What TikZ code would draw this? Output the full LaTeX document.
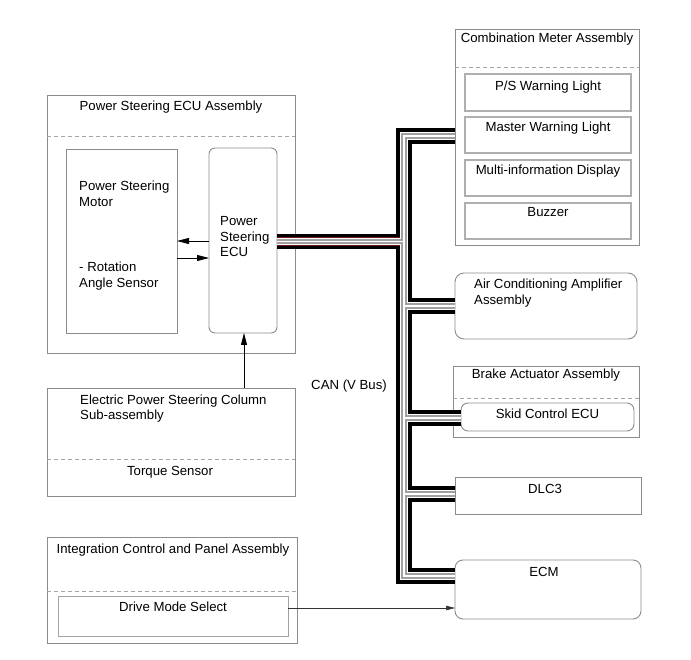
\documentclass[tikz,border=0pt]{standalone}
\usepackage{fontspec}
\setmainfont{Liberation Sans}
\usetikzlibrary{arrows.meta}
\definecolor{boxgray}{RGB}{140,140,140}
\definecolor{innergray}{RGB}{175,175,175}
\definecolor{dashgray}{RGB}{165,165,165}
\definecolor{busred}{RGB}{110,25,25}
\definecolor{busgray}{RGB}{160,160,160}
\newcommand{\mkbox}[6][]{\node[box,#1,minimum width={(#5-#3)*1pt},minimum height={(#6-#4)*1pt}] (#2) at (#3,#4) {};}
\begin{document}
\begin{tikzpicture}[x=1pt,y=-1pt,
  font=\fontsize{13.2}{15.5}\selectfont,
  box/.style={draw=boxgray, line width=0.9pt, anchor=north west, inner sep=0pt, outer sep=0pt},
  inbox/.style={box, draw=innergray, line width=1.2pt},
  rbox/.style={box, rounded corners=7pt},
  dashline/.style={draw=dashgray, line width=0.9pt, dash pattern=on 4pt off 3pt},
  lbl/.style={anchor=base, inner sep=0pt},
  lbll/.style={anchor=base west, inner sep=0pt},
  arr/.style={draw=black, line width=0.8pt, -{Triangle[length=12pt,width=6pt]}},
  arrs/.style={draw=black!80, line width=0.6pt, -{Triangle[length=9pt,width=4.5pt]}},
  bus/.style={draw=black, line width=15.5pt, line join=miter, line cap=butt,
    postaction={draw=busred, line width=8.6pt, line join=miter},
    postaction={draw=white, line width=7.4pt, line join=miter},
    postaction={draw=busgray, line width=5.2pt, line join=miter},
    postaction={draw=white, line width=1.8pt, line join=miter}}
]
\useasboundingbox (0,0) rectangle (691,660);

% ---------- Combination Meter ----------
\mkbox{cm}{455}{29}{639}{245}
\draw[dashline] (455,67) -- (639,67);
\node[lbl] (cmt) at (547,43) {Combination Meter Assembly};
\mkbox[inbox]{ps}{465}{74}{631}{111}
\node[lbl] (pst) at (548,91) {P/S Warning Light};
\mkbox[inbox]{mw}{465}{117}{631}{153}
\node[lbl] (mwt) at (548,132) {Master Warning Light};
\mkbox[inbox]{mid}{465}{160}{631}{196}
\node[lbl] (midt) at (548,175) {Multi-information Display};
\mkbox[inbox]{bz}{465}{203}{631}{239}
\node[lbl] (bzt) at (548,217) {Buzzer};

% ---------- Air conditioning ----------
\mkbox[rbox, rounded corners=9pt]{ac}{455}{273}{637}{339}
\node[lbll] (act1) at (474,289) {Air Conditioning Amplifier};
\node[lbll] (act2) at (474,304.5) {Assembly};

% ---------- Brake actuator ----------
\mkbox{ba}{453}{366}{639}{437}
\draw[dashline] (453,398) -- (639,398);
\node[lbl] (bat) at (546,378) {Brake Actuator Assembly};
\mkbox[rbox]{skid}{461}{403}{634}{431}
\node[lbl] (skidt) at (547.5,418) {Skid Control ECU};

% ---------- DLC3 / ECM ----------
\mkbox{dlc}{455}{477}{641}{514}
\node[lbl] (dlct) at (545,493) {DLC3};
\mkbox[rbox, rounded corners=8pt]{ecm}{455}{560}{641}{619}
\node[lbl] (ecmt) at (544,576) {ECM};

% ---------- Power steering ECU assembly ----------
\mkbox{psa}{47}{95}{295}{353}
\draw[dashline] (47,136) -- (295,136);
\node[lbl] (psat) at (171,111) {Power Steering ECU Assembly};
\mkbox{motor}{66}{149}{177}{333}
\node[lbll] (mt1) at (79,191) {Power Steering};
\node[lbll] (mt2) at (79,206.5) {Motor};
\node[lbll] (mt3) at (79,272) {- Rotation};
\node[lbll] (mt4) at (79,287.5) {Angle Sensor};
\mkbox[rbox, rounded corners=6pt]{psecu}{209}{148}{277}{333}
\node[lbll] (et1) at (220,226) {Power};
\node[lbll] (et2) at (220,241.5) {Steering};
\node[lbll] (et3) at (220,257) {ECU};

% ---------- EPS column ----------
\mkbox{eps}{47}{388}{295}{496}
\draw[dashline] (47,459) -- (295,459);
\node[lbll] (ept1) at (80,404) {Electric Power Steering Column};
\node[lbll] (ept2) at (80,419) {Sub-assembly};
\node[lbl] (tqt) at (170,475) {Torque Sensor};

% ---------- Integration control ----------
\mkbox{icp}{47}{537}{297}{643}
\draw[dashline] (47,591) -- (297,591);
\node[lbl] (icpt) at (173,553) {Integration Control and Panel Assembly};
\mkbox[box, draw=boxgray!80]{dms}{58}{596}{288}{636}
\node[lbl] (dmst) at (173,611) {Drive Mode Select};

\node[lbl] (can) at (349,389) {CAN (V Bus)};

% ---------- arrows ----------
\coordinate (a1) at (193,241);
\coordinate (a2) at (193,258);
\draw[arr] (psecu.west |- a1) -- (motor.east |- a1);
\draw[arr] (motor.east |- a2) -- (psecu.west |- a2);
\coordinate (v) at (244,360);
\draw[arr] (eps.north -| v) -- (psecu.south -| v);
\coordinate (d) at (370,608);
\draw[arrs] (dms.east |- d) -- (ecm.west |- d);

% ---------- CAN bus ----------
\coordinate (jTop) at (404,136);
\coordinate (jEcu) at (404,241.5);
\coordinate (jAc) at (404,306);
\coordinate (jSkid) at (404,418);
\coordinate (jDlc) at (404,494);
\coordinate (jBot) at (404,576);
\draw[bus] (cm.west |- jTop) -- (jTop) -- (jBot) -- (ecm.west |- jBot)
  (psecu.east |- jEcu) -- (jEcu)
  (jAc) -- (ac.west |- jAc)
  (jSkid) -- (skid.west |- jSkid)
  (jDlc) -- (dlc.west |- jDlc);
\end{tikzpicture}
\end{document}
